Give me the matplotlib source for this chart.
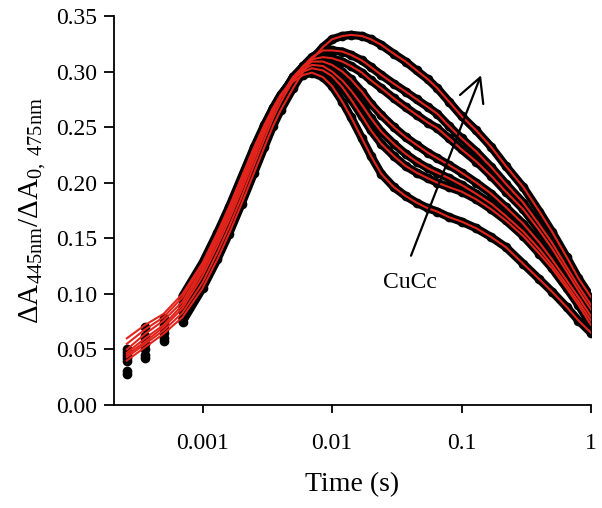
import matplotlib
matplotlib.use('Agg')
import matplotlib.pyplot as plt
import numpy as np

plt.rcParams['font.family'] = ['Liberation Serif', 'DejaVu Serif']
plt.rcParams['mathtext.fontset'] = 'custom'
plt.rcParams['mathtext.rm'] = 'Liberation Serif'
plt.rcParams['mathtext.it'] = 'Liberation Serif:italic'

# time points (s)
time = [2.6e-4, 3.6e-4, 5e-4, 7e-4, 1e-3, 1.3e-3, 1.6e-3, 2e-3, 2.5e-3, 3e-3,
        3.5e-3, 4e-3, 5e-3, 6e-3, 7e-3, 8.5e-3, 0.01, 0.012, 0.014, 0.017,
        0.02, 0.024, 0.03, 0.037, 0.045, 0.055, 0.065, 0.08, 0.1, 0.13,
        0.17, 0.22, 0.3, 0.4, 0.5, 0.65, 0.8, 1.0]

# measured traces, lowest to highest CuCc
trace1 = [0.050, 0.070, 0.078, 0.098, 0.128, 0.155, 0.178, 0.205, 0.232, 0.252,
          0.267, 0.278, 0.291, 0.297, 0.299, 0.295, 0.287, 0.273, 0.259, 0.240,
          0.224, 0.208, 0.196, 0.188, 0.182, 0.177, 0.174, 0.169, 0.165, 0.159,
          0.151, 0.142, 0.127, 0.113, 0.102, 0.088, 0.076, 0.065]
trace2 = [0.048, 0.062, 0.075, 0.095, 0.126, 0.153, 0.176, 0.203, 0.230, 0.251,
          0.267, 0.279, 0.293, 0.300, 0.303, 0.301, 0.296, 0.286, 0.275, 0.260,
          0.247, 0.235, 0.224, 0.215, 0.209, 0.204, 0.200, 0.196, 0.192, 0.185,
          0.176, 0.166, 0.152, 0.136, 0.123, 0.105, 0.090, 0.072]
trace3 = [0.045, 0.060, 0.072, 0.090, 0.123, 0.150, 0.173, 0.200, 0.228, 0.249,
          0.266, 0.278, 0.294, 0.302, 0.306, 0.305, 0.300, 0.292, 0.283, 0.270,
          0.258, 0.246, 0.235, 0.226, 0.219, 0.213, 0.209, 0.204, 0.198, 0.190,
          0.181, 0.170, 0.156, 0.140, 0.126, 0.108, 0.093, 0.076]
trace4 = [0.042, 0.055, 0.068, 0.087, 0.120, 0.147, 0.170, 0.197, 0.225, 0.247,
          0.264, 0.277, 0.295, 0.304, 0.309, 0.309, 0.306, 0.300, 0.293, 0.282,
          0.271, 0.261, 0.250, 0.241, 0.234, 0.227, 0.222, 0.216, 0.209, 0.200,
          0.190, 0.178, 0.163, 0.146, 0.131, 0.112, 0.097, 0.080]
trace5 = [0.040, 0.050, 0.065, 0.084, 0.116, 0.143, 0.166, 0.193, 0.221, 0.244,
          0.262, 0.276, 0.295, 0.305, 0.311, 0.313, 0.312, 0.309, 0.305, 0.299,
          0.292, 0.285, 0.276, 0.268, 0.261, 0.254, 0.249, 0.240, 0.230, 0.219,
          0.206, 0.192, 0.176, 0.157, 0.141, 0.120, 0.103, 0.086]
trace6 = [0.031, 0.045, 0.060, 0.078, 0.110, 0.137, 0.160, 0.187, 0.216, 0.239,
          0.258, 0.272, 0.292, 0.305, 0.313, 0.319, 0.319, 0.318, 0.315, 0.310,
          0.304, 0.297, 0.289, 0.282, 0.275, 0.268, 0.262, 0.251, 0.240, 0.228,
          0.214, 0.199, 0.182, 0.162, 0.146, 0.124, 0.107, 0.090]
trace7 = [0.028, 0.042, 0.058, 0.075, 0.105, 0.131, 0.154, 0.181, 0.209, 0.232,
          0.251, 0.265, 0.285, 0.300, 0.311, 0.322, 0.329, 0.332, 0.333, 0.332,
          0.329, 0.324, 0.316, 0.309, 0.301, 0.293, 0.285, 0.273, 0.260, 0.247,
          0.232, 0.215, 0.196, 0.174, 0.156, 0.133, 0.114, 0.097]
traces = [trace1, trace2, trace3, trace4, trace5, trace6, trace7]

# fitted curves differ from the data only at the earliest times
fit_early = [[0.060, 0.072, 0.082, 0.100],
             [0.055, 0.068, 0.079, 0.097],
             [0.050, 0.064, 0.076, 0.093],
             [0.047, 0.060, 0.072, 0.090],
             [0.045, 0.057, 0.070, 0.087],
             [0.043, 0.055, 0.067, 0.083],
             [0.040, 0.052, 0.064, 0.079]]

fig = plt.figure(figsize=(6.02, 5.08), dpi=100)
ax = fig.add_axes([0.1894, 0.2028, 0.7923, 0.7657])

n_early = 4
for tr in traces:
    # data: separate dots early on, dense band afterwards
    ax.plot(time, tr, 'o', color='black', ms=7, mew=0)
    ax.plot(time[n_early - 1:], tr[n_early - 1:], '-', color='black', lw=6,
            solid_capstyle='round', solid_joinstyle='round')
for tr, fe in zip(traces, fit_early):
    fit = fe + tr[n_early:]
    ax.plot(time, fit, '-', color='#e3241c', lw=1.5)

# arrow and label
ax.annotate('', xy=(0.144, 0.299), xytext=(0.040, 0.132),
            arrowprops=dict(arrowstyle='->, head_length=0.85, head_width=0.45',
                            color='black', lw=1.6, mutation_scale=20))
ax.text(0.040, 0.110, 'CuCc', fontsize=17, ha='center', va='center')

ax.set_xscale('log')
ax.set_xlim(2.07e-4, 1.0)
ax.set_ylim(0, 0.35)
ax.set_xticks([0.001, 0.01, 0.1, 1])
ax.set_xticklabels(['0.001', '0.01', '0.1', '1'])
ax.minorticks_off()
ax.set_yticks(np.arange(0, 0.351, 0.05))
ax.set_yticklabels(['%.2f' % v for v in np.arange(0, 0.351, 0.05)])

ax.spines['top'].set_visible(False)
ax.spines['right'].set_visible(False)
for s in ['left', 'bottom']:
    ax.spines[s].set_linewidth(1.3)
ax.tick_params(axis='x', direction='out', length=5.5, width=1.3, pad=15, labelsize=17)
ax.tick_params(axis='y', direction='out', length=7, width=1.3, pad=5, labelsize=17)

ax.set_xlabel('Time (s)', fontsize=20, labelpad=13)
ax.set_ylabel(r'$\Delta\mathrm{A}_{\mathrm{445nm}}/\Delta\mathrm{A}_{\mathrm{0,\ 475nm}}$',
              fontsize=21, labelpad=6)

fig.savefig('out.png', dpi=100)
